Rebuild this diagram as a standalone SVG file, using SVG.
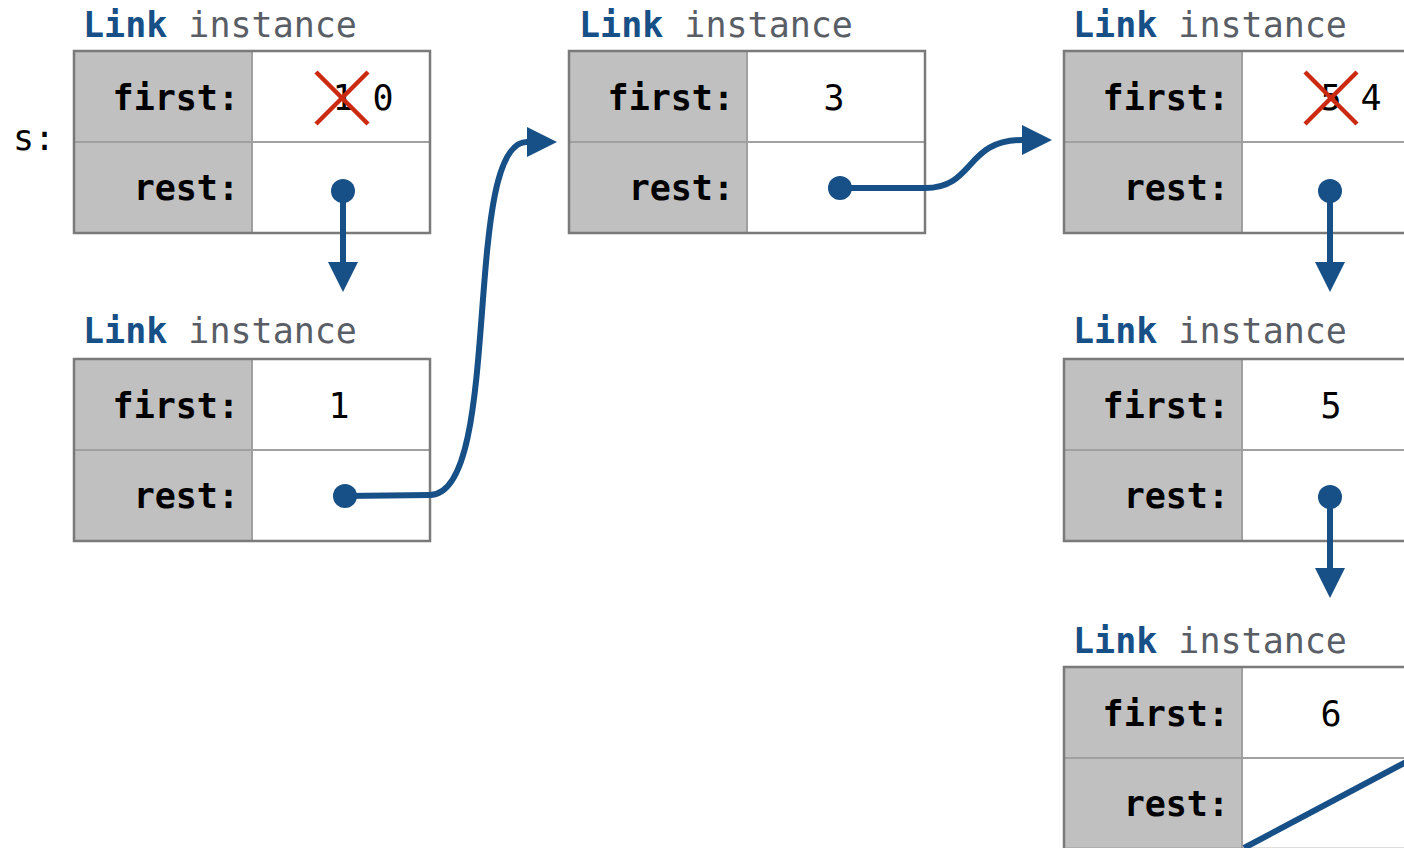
<svg xmlns="http://www.w3.org/2000/svg" width="1404" height="848" viewBox="0 0 1404 848">
<defs>
<style>
.t{font-family:"DejaVu Sans Mono","Liberation Mono",monospace;font-size:35px}
.lk{font-weight:bold;fill:#174f87}
.in{fill:#595e66}
.lab{font-weight:bold;fill:#000;text-anchor:end}
.val{fill:#000;text-anchor:middle}
.lc{fill:#c0c0c0;stroke:none}
.vc{fill:#fff;stroke:none}
.div{stroke:#a0a0a0;stroke-width:2;fill:none}
.out{fill:none;stroke:#7a7a7a;stroke-width:2.5}
.ptr{stroke:#174f87;stroke-width:6;fill:none}
.dot{fill:#174f87}
.x{stroke:#cc2a10;stroke-width:4.5}
</style>
<marker id="ah" viewBox="0 0 10 10" refX="0" refY="5" markerWidth="30" markerHeight="30" markerUnits="userSpaceOnUse" orient="auto">
<path d="M0,0 L10,5 L0,10 Z" fill="#174f87"/>
</marker>
</defs>
<rect width="1404" height="848" fill="#fff"/>
<text class="t" x="13" y="150">s:</text>

<g id="link1">
<text class="t" x="83" y="37"><tspan class="lk">Link</tspan><tspan class="in"> instance</tspan></text>
<rect class="lc" x="74" y="51" width="178" height="182"/>
<rect class="vc" x="252" y="51" width="178" height="182"/>
<line class="div" x1="74" y1="142" x2="430" y2="142"/>
<line class="div" x1="252" y1="51" x2="252" y2="233"/>
<rect class="out" x="74" y="51" width="356" height="182"/>
<text class="t lab" x="239" y="110">first:</text>
<text class="t lab" x="239" y="200">rest:</text>
<text class="t val" x="343" y="110">1</text>
<text class="t val" x="383" y="110">0</text>
<line class="x" x1="316" y1="72" x2="368" y2="124"/>
<line class="x" x1="368" y1="72" x2="316" y2="124"/>
</g>

<g id="link2">
<text class="t" x="83" y="343"><tspan class="lk">Link</tspan><tspan class="in"> instance</tspan></text>
<rect class="lc" x="74" y="359" width="178" height="182"/>
<rect class="vc" x="252" y="359" width="178" height="182"/>
<line class="div" x1="74" y1="450" x2="430" y2="450"/>
<line class="div" x1="252" y1="359" x2="252" y2="541"/>
<rect class="out" x="74" y="359" width="356" height="182"/>
<text class="t lab" x="239" y="418">first:</text>
<text class="t lab" x="239" y="508">rest:</text>
<text class="t val" x="339" y="418">1</text>
</g>

<g id="link3">
<text class="t" x="579" y="37"><tspan class="lk">Link</tspan><tspan class="in"> instance</tspan></text>
<rect class="lc" x="569" y="51" width="178" height="182"/>
<rect class="vc" x="747" y="51" width="178" height="182"/>
<line class="div" x1="569" y1="142" x2="925" y2="142"/>
<line class="div" x1="747" y1="51" x2="747" y2="233"/>
<rect class="out" x="569" y="51" width="356" height="182"/>
<text class="t lab" x="734" y="110">first:</text>
<text class="t lab" x="734" y="200">rest:</text>
<text class="t val" x="834" y="110">3</text>
</g>

<g id="link4">
<text class="t" x="1073" y="37"><tspan class="lk">Link</tspan><tspan class="in"> instance</tspan></text>
<rect class="lc" x="1064" y="51" width="178" height="182"/>
<rect class="vc" x="1242" y="51" width="178" height="182"/>
<line class="div" x1="1064" y1="142" x2="1420" y2="142"/>
<line class="div" x1="1242" y1="51" x2="1242" y2="233"/>
<rect class="out" x="1064" y="51" width="356" height="182"/>
<text class="t lab" x="1229" y="110">first:</text>
<text class="t lab" x="1229" y="200">rest:</text>
<text class="t val" x="1331" y="110">5</text>
<text class="t val" x="1371" y="110">4</text>
<line class="x" x1="1305" y1="72" x2="1357" y2="124"/>
<line class="x" x1="1357" y1="72" x2="1305" y2="124"/>
</g>

<g id="link5">
<text class="t" x="1073" y="343"><tspan class="lk">Link</tspan><tspan class="in"> instance</tspan></text>
<rect class="lc" x="1064" y="359" width="178" height="182"/>
<rect class="vc" x="1242" y="359" width="178" height="182"/>
<line class="div" x1="1064" y1="450" x2="1420" y2="450"/>
<line class="div" x1="1242" y1="359" x2="1242" y2="541"/>
<rect class="out" x="1064" y="359" width="356" height="182"/>
<text class="t lab" x="1229" y="418">first:</text>
<text class="t lab" x="1229" y="508">rest:</text>
<text class="t val" x="1331" y="418">5</text>
</g>

<g id="link6">
<text class="t" x="1073" y="653"><tspan class="lk">Link</tspan><tspan class="in"> instance</tspan></text>
<rect class="lc" x="1064" y="667" width="178" height="182"/>
<rect class="vc" x="1242" y="667" width="178" height="182"/>
<line class="div" x1="1064" y1="758" x2="1420" y2="758"/>
<line class="div" x1="1242" y1="667" x2="1242" y2="849"/>
<rect class="out" x="1064" y="667" width="356" height="182"/>
<text class="t lab" x="1229" y="726">first:</text>
<text class="t lab" x="1229" y="816">rest:</text>
<text class="t val" x="1331" y="726">6</text>
</g>

<g id="connectors">
<circle class="dot" cx="343" cy="191" r="12"/>
<path class="ptr" d="M343,191 L343,262" marker-end="url(#ah)"/>
<circle class="dot" cx="345" cy="496" r="12"/>
<path class="ptr" d="M345,496 L430,495 C504,495 461,142 527,142" marker-end="url(#ah)"/>
<circle class="dot" cx="840" cy="188" r="12"/>
<path class="ptr" d="M840,188 L925,188 C975,188 965,140 1022,140" marker-end="url(#ah)"/>
<circle class="dot" cx="1330" cy="191" r="12"/>
<path class="ptr" d="M1330,191 L1330,262" marker-end="url(#ah)"/>
<circle class="dot" cx="1330" cy="497" r="12"/>
<path class="ptr" d="M1330,497 L1330,568" marker-end="url(#ah)"/>
<line class="ptr" x1="1244" y1="848" x2="1406" y2="762"/>
</g>
</svg>
